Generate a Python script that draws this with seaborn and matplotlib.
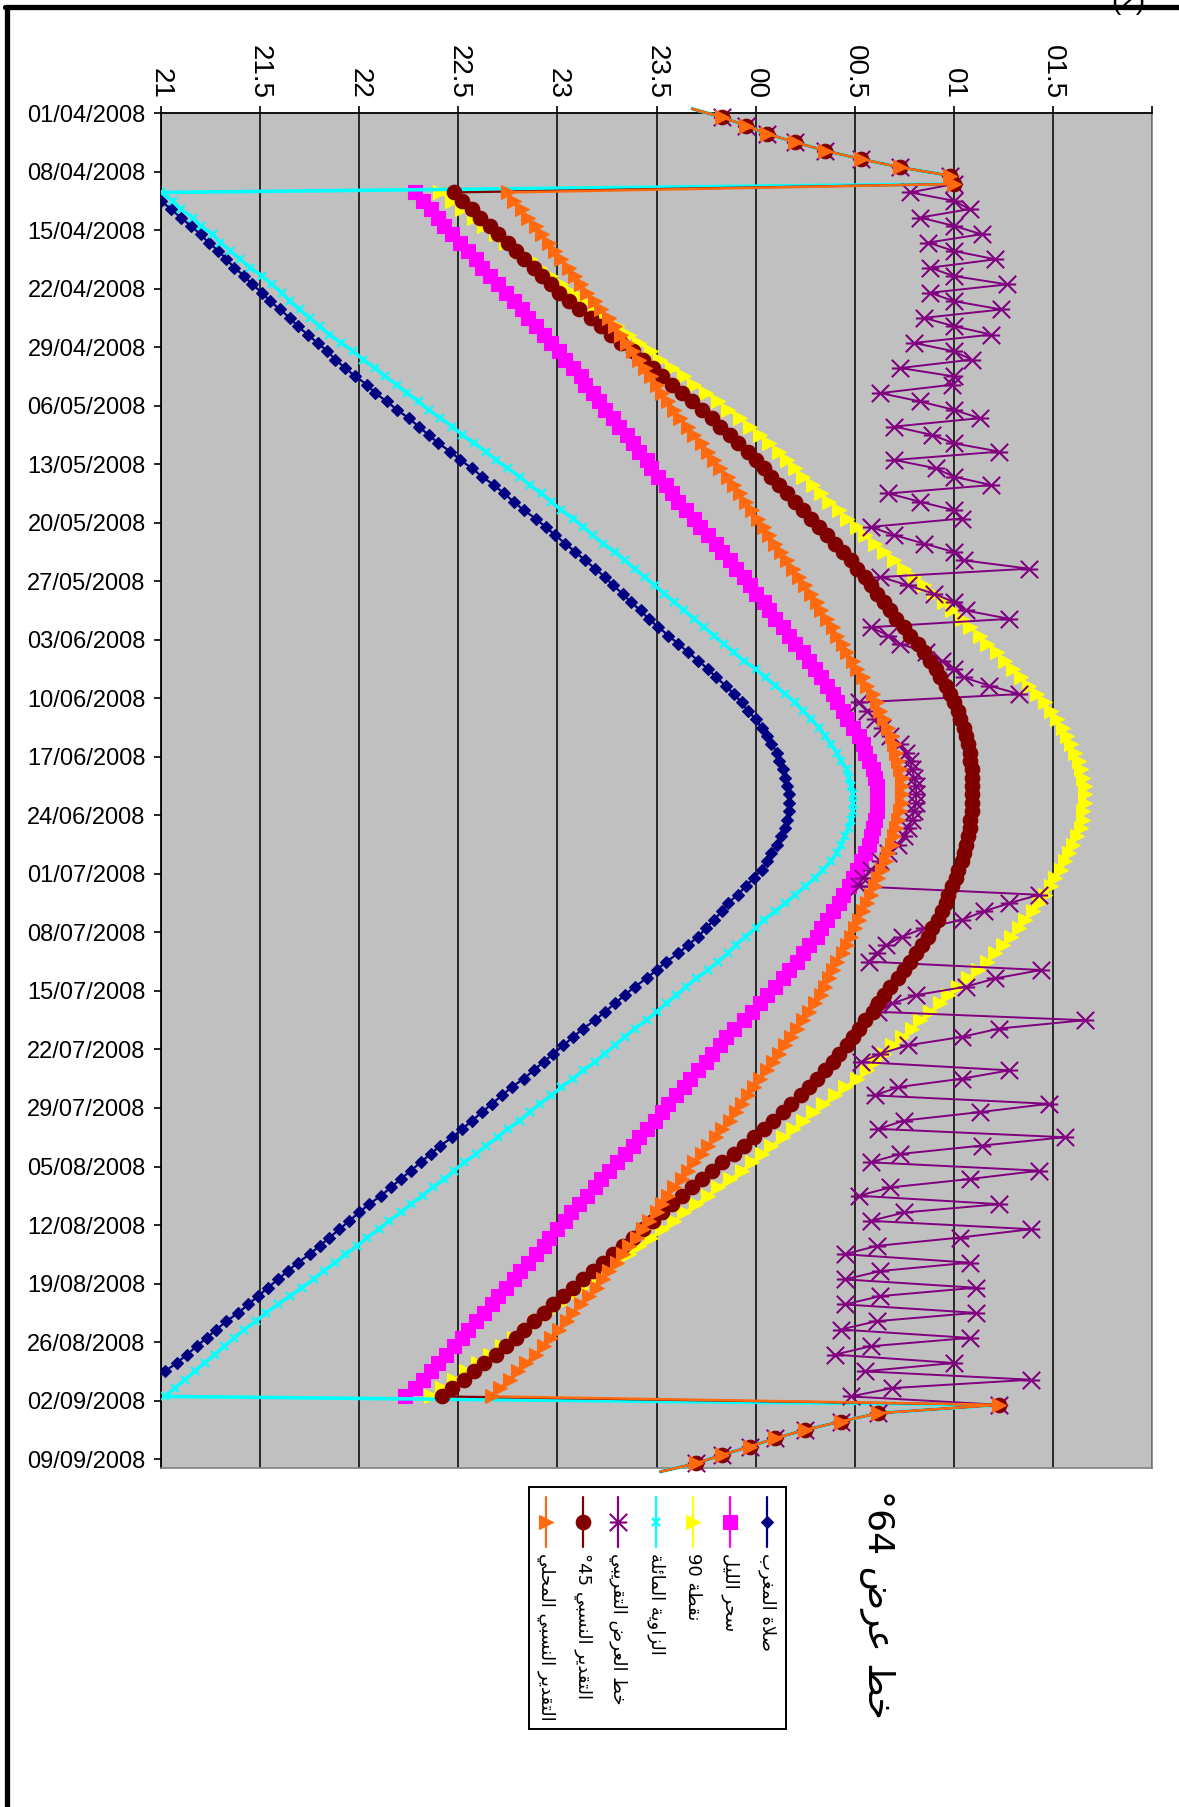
import numpy as np
import pandas as pd
import matplotlib
matplotlib.use("Agg")
import matplotlib.pyplot as plt
import seaborn as sns
from matplotlib.lines import Line2D
from matplotlib.path import Path
from matplotlib.patches import Rectangle

# ---------------------------------------------------------------- data
# one value per day, 31/03/2008 .. 10/09/2008 (hours, 24.x = after midnight)
dates = pd.date_range("2008-03-31", "2008-09-10", freq="D")
tick_dates = pd.date_range("2008-04-01", "2008-09-09", freq="7D")
hour_ticks = [21, 21.5, 22, 22.5, 23, 23.5, 24, 24.5, 25, 25.5, 26]
hour_labels = ["21", "21.5", "22", "22.5", "23", "23.5", "00", "00.5", "01", "01.5", ""]

# shared values at the start (31/03 - 09/04) and end (02/09 - 10/09)
fallback_start = [23.68, 23.83, 23.95, 24.06, 24.20, 24.35, 24.53, 24.73, 24.98, 25.00]
fallback_end = [25.23, 24.62, 24.43, 24.25, 24.10, 23.97, 23.83, 23.70, 23.52]

# صلاة المغرب, 10/04 - 31/08
maghrib = [
    20.95, 21.00, 21.05, 21.10, 21.15, 21.20, 21.24, 21.29, 21.33, 21.37,
    21.42, 21.46, 21.51, 21.55, 21.60, 21.65, 21.69, 21.74, 21.79, 21.84,
    21.88, 21.93, 21.98, 22.04, 22.08, 22.14, 22.19, 22.25, 22.30, 22.35,
    22.40, 22.46, 22.51, 22.57, 22.62, 22.68, 22.73, 22.78, 22.83, 22.89,
    22.94, 22.99, 23.04, 23.09, 23.14, 23.19, 23.24, 23.28, 23.33, 23.37,
    23.42, 23.46, 23.51, 23.56, 23.61, 23.66, 23.71, 23.76, 23.80, 23.85,
    23.89, 23.93, 23.96, 24.00, 24.03, 24.06, 24.08, 24.11, 24.12, 24.14,
    24.15, 24.16, 24.17, 24.17, 24.17, 24.16, 24.15, 24.13, 24.11, 24.08,
    24.06, 24.03, 23.99, 23.95, 23.91, 23.86, 23.83, 23.79, 23.75, 23.71,
    23.66, 23.61, 23.55, 23.50, 23.45, 23.39, 23.34, 23.29, 23.24, 23.19,
    23.13, 23.08, 23.03, 22.98, 22.93, 22.88, 22.83, 22.77, 22.72, 22.67,
    22.62, 22.57, 22.52, 22.47, 22.41, 22.36, 22.31, 22.26, 22.21, 22.16,
    22.11, 22.05, 22.00, 21.95, 21.90, 21.85, 21.80, 21.75, 21.69, 21.64,
    21.59, 21.54, 21.49, 21.44, 21.39, 21.33, 21.28, 21.23, 21.18, 21.13,
    21.08, 21.02, 20.97, 20.92,
]

# سحر الليل, 10/04 - 01/09
sahar = [
    22.28, 22.32, 22.36, 22.40, 22.43, 22.47, 22.51, 22.55, 22.59, 22.62,
    22.66, 22.70, 22.74, 22.78, 22.82, 22.85, 22.89, 22.93, 22.97, 23.01,
    23.04, 23.08, 23.12, 23.14, 23.18, 23.21, 23.24, 23.28, 23.31, 23.35,
    23.38, 23.41, 23.45, 23.47, 23.51, 23.55, 23.58, 23.61, 23.65, 23.69,
    23.72, 23.76, 23.80, 23.83, 23.87, 23.90, 23.94, 23.97, 24.00, 24.04,
    24.07, 24.10, 24.14, 24.17, 24.20, 24.24, 24.27, 24.30, 24.33, 24.36,
    24.39, 24.41, 24.44, 24.46, 24.49, 24.52, 24.54, 24.55, 24.57, 24.59,
    24.60, 24.61, 24.61, 24.61, 24.61, 24.60, 24.59, 24.58, 24.57, 24.55,
    24.53, 24.51, 24.49, 24.47, 24.44, 24.42, 24.39, 24.36, 24.33, 24.31,
    24.27, 24.24, 24.21, 24.17, 24.14, 24.10, 24.06, 24.02, 23.98, 23.94,
    23.89, 23.85, 23.82, 23.78, 23.75, 23.71, 23.67, 23.64, 23.60, 23.56,
    23.53, 23.49, 23.45, 23.41, 23.38, 23.34, 23.30, 23.26, 23.22, 23.19,
    23.15, 23.11, 23.07, 23.04, 23.00, 22.96, 22.93, 22.89, 22.85, 22.81,
    22.78, 22.74, 22.70, 22.67, 22.63, 22.59, 22.55, 22.52, 22.48, 22.44,
    22.40, 22.36, 22.32, 22.28, 22.23,
]

# نقطة 90, 10/04 - 01/09
point90 = [
    22.41, 22.47, 22.52, 22.58, 22.63, 22.69, 22.74, 22.80, 22.86, 22.91,
    22.97, 23.02, 23.08, 23.13, 23.19, 23.24, 23.30, 23.36, 23.41, 23.47,
    23.52, 23.58, 23.64, 23.69, 23.75, 23.81, 23.86, 23.92, 23.97, 24.02,
    24.07, 24.12, 24.16, 24.20, 24.24, 24.29, 24.33, 24.37, 24.42, 24.46,
    24.51, 24.55, 24.60, 24.65, 24.70, 24.75, 24.80, 24.85, 24.90, 24.95,
    24.99, 25.04, 25.08, 25.13, 25.17, 25.22, 25.26, 25.30, 25.34, 25.38,
    25.42, 25.46, 25.49, 25.52, 25.55, 25.57, 25.59, 25.61, 25.63, 25.64,
    25.65, 25.66, 25.66, 25.66, 25.65, 25.65, 25.64, 25.62, 25.60, 25.58,
    25.56, 25.54, 25.51, 25.49, 25.46, 25.43, 25.40, 25.36, 25.33, 25.29,
    25.25, 25.21, 25.17, 25.12, 25.07, 25.02, 24.97, 24.93, 24.88, 24.83,
    24.79, 24.74, 24.69, 24.65, 24.60, 24.56, 24.51, 24.45, 24.40, 24.34,
    24.29, 24.24, 24.19, 24.14, 24.08, 24.03, 23.98, 23.93, 23.87, 23.81,
    23.76, 23.70, 23.64, 23.59, 23.53, 23.47, 23.41, 23.36, 23.30, 23.24,
    23.18, 23.12, 23.06, 23.01, 22.95, 22.89, 22.84, 22.78, 22.72, 22.66,
    22.60, 22.54, 22.48, 22.42, 22.36,
]

# الزاوية المائلة, 10/04 - 01/09
oblique = [
    21.00, 21.06, 21.10, 21.16, 21.20, 21.26, 21.30, 21.35, 21.40, 21.45,
    21.51, 21.56, 21.61, 21.65, 21.70, 21.75, 21.80, 21.85, 21.91, 21.97,
    22.02, 22.08, 22.13, 22.19, 22.24, 22.30, 22.35, 22.41, 22.47, 22.52,
    22.58, 22.64, 22.69, 22.75, 22.81, 22.86, 22.92, 22.97, 23.02, 23.08,
    23.13, 23.18, 23.23, 23.29, 23.34, 23.39, 23.44, 23.49, 23.54, 23.59,
    23.64, 23.69, 23.74, 23.79, 23.84, 23.89, 23.94, 24.00, 24.05, 24.10,
    24.15, 24.20, 24.24, 24.28, 24.32, 24.35, 24.38, 24.41, 24.43, 24.46,
    24.47, 24.48, 24.49, 24.49, 24.49, 24.48, 24.47, 24.45, 24.43, 24.41,
    24.38, 24.34, 24.30, 24.25, 24.20, 24.15, 24.10, 24.04, 24.00, 23.95,
    23.90, 23.86, 23.81, 23.76, 23.70, 23.65, 23.60, 23.55, 23.50, 23.45,
    23.39, 23.34, 23.29, 23.24, 23.19, 23.13, 23.08, 23.02, 22.97, 22.91,
    22.86, 22.81, 22.75, 22.70, 22.64, 22.59, 22.53, 22.48, 22.43, 22.37,
    22.32, 22.26, 22.21, 22.15, 22.10, 22.04, 21.99, 21.93, 21.88, 21.82,
    21.77, 21.71, 21.65, 21.59, 21.53, 21.48, 21.42, 21.37, 21.32, 21.27,
    21.22, 21.17, 21.12, 21.07, 21.02,
]

# خط العرض التقريبي, 10/04 - 01/09
approx_lat = [
    24.78, 25.00, 25.08, 24.83, 25.00, 25.14, 24.87, 25.00, 25.21, 24.88,
    25.00, 25.27, 24.88, 25.00, 25.24, 24.85, 25.00, 25.19, 24.80, 25.00,
    25.09, 24.73, 25.00, 24.99, 24.63, 24.83, 25.00, 25.13, 24.70, 24.89,
    25.00, 25.23, 24.70, 24.91, 25.00, 25.19, 24.67, 24.83, 25.00, 25.04,
    24.58, 24.70, 24.85, 25.00, 25.05, 25.38, 24.63, 24.77, 24.90, 25.00,
    25.06, 25.28, 24.58, 24.67, 24.73, 24.86, 24.94, 25.00, 25.05, 25.18,
    25.33, 24.52, 24.56, 24.60, 24.64, 24.68, 24.73, 24.76, 24.78, 24.79,
    24.80, 24.81, 24.81, 24.81, 24.80, 24.79, 24.77, 24.75, 24.72, 24.67,
    24.63, 24.58, 24.54, 24.52, 25.43, 25.28, 25.15, 25.04, 24.85, 24.74,
    24.66, 24.61, 24.57, 25.44, 25.21, 25.06, 24.81, 24.69, 24.62, 25.66,
    25.23, 25.04, 24.77, 24.63, 24.53, 25.28, 25.04, 24.72, 24.60, 25.48,
    25.13, 24.75, 24.62, 25.56, 25.14, 24.73, 24.58, 25.43, 25.08, 24.68,
    24.52, 25.23, 24.75, 24.58, 25.39, 25.03, 24.61, 24.45, 25.08, 24.63,
    24.45, 25.11, 24.63, 24.45, 25.11, 24.61, 24.43, 25.08, 24.58, 24.40,
    25.00, 24.55, 25.39, 24.69, 24.48,
]

# التقدير النسبي 45°, 10/04 - 01/09
relative45 = [
    22.48, 22.52, 22.57, 22.61, 22.66, 22.70, 22.75, 22.79, 22.83, 22.88,
    22.92, 22.97, 23.01, 23.06, 23.11, 23.17, 23.22, 23.27, 23.32, 23.38,
    23.43, 23.48, 23.53, 23.58, 23.63, 23.68, 23.73, 23.78, 23.82, 23.87,
    23.91, 23.96, 24.00, 24.04, 24.08, 24.12, 24.16, 24.20, 24.24, 24.28,
    24.32, 24.36, 24.40, 24.44, 24.48, 24.51, 24.55, 24.58, 24.61, 24.65,
    24.68, 24.71, 24.75, 24.78, 24.82, 24.85, 24.88, 24.91, 24.93, 24.96,
    24.98, 25.00, 25.02, 25.03, 25.05, 25.06, 25.07, 25.08, 25.08, 25.09,
    25.09, 25.09, 25.09, 25.09, 25.09, 25.08, 25.08, 25.07, 25.06, 25.05,
    25.04, 25.02, 25.01, 24.99, 24.97, 24.96, 24.94, 24.92, 24.89, 24.87,
    24.84, 24.81, 24.78, 24.75, 24.72, 24.68, 24.65, 24.62, 24.59, 24.55,
    24.52, 24.49, 24.46, 24.42, 24.39, 24.35, 24.31, 24.27, 24.23, 24.18,
    24.14, 24.09, 24.04, 23.99, 23.94, 23.89, 23.83, 23.78, 23.73, 23.68,
    23.63, 23.58, 23.53, 23.48, 23.43, 23.38, 23.33, 23.28, 23.23, 23.18,
    23.13, 23.08, 23.03, 22.98, 22.93, 22.88, 22.83, 22.79, 22.74, 22.69,
    22.63, 22.58, 22.53, 22.47, 22.42,
]

# التقدير النسبي المحلي, 10/04 - 01/09
relative_local = [
    22.75, 22.78, 22.82, 22.85, 22.89, 22.92, 22.96, 22.99, 23.02, 23.06,
    23.09, 23.12, 23.15, 23.19, 23.22, 23.26, 23.29, 23.32, 23.35, 23.38,
    23.41, 23.44, 23.47, 23.50, 23.53, 23.56, 23.59, 23.62, 23.66, 23.69,
    23.73, 23.76, 23.79, 23.82, 23.86, 23.89, 23.92, 23.95, 23.98, 24.01,
    24.04, 24.07, 24.10, 24.13, 24.16, 24.19, 24.22, 24.25, 24.28, 24.31,
    24.33, 24.36, 24.39, 24.41, 24.44, 24.46, 24.49, 24.51, 24.54, 24.56,
    24.59, 24.61, 24.63, 24.65, 24.67, 24.69, 24.70, 24.71, 24.72, 24.73,
    24.74, 24.74, 24.74, 24.74, 24.73, 24.72, 24.71, 24.70, 24.69, 24.67,
    24.66, 24.64, 24.62, 24.60, 24.58, 24.56, 24.54, 24.52, 24.50, 24.48,
    24.46, 24.44, 24.41, 24.39, 24.37, 24.35, 24.33, 24.30, 24.27, 24.24,
    24.21, 24.18, 24.15, 24.12, 24.09, 24.06, 24.02, 23.99, 23.96, 23.93,
    23.90, 23.87, 23.83, 23.80, 23.76, 23.73, 23.69, 23.66, 23.63, 23.59,
    23.56, 23.53, 23.50, 23.46, 23.43, 23.40, 23.36, 23.33, 23.30, 23.26,
    23.23, 23.20, 23.16, 23.12, 23.08, 23.05, 23.01, 22.97, 22.93, 22.89,
    22.84, 22.80, 22.76, 22.71, 22.67,
]

# ------------------------------------------------------ Arabic shaping
DUAL = {"ب": 0xFE8F, "ت": 0xFE95, "ح": 0xFEA1, "خ": 0xFEA5, "س": 0xFEB1,
        "ص": 0xFEB9, "ض": 0xFEBD, "ط": 0xFEC1, "ع": 0xFEC9, "غ": 0xFECD,
        "ق": 0xFED5, "ل": 0xFEDD, "م": 0xFEE1, "ن": 0xFEE5, "ي": 0xFEF1,
        "ئ": 0xFE89}
RIGHT = {"ا": 0xFE8D, "ة": 0xFE93, "د": 0xFEA9, "ر": 0xFEAD, "ز": 0xFEAF,
         "و": 0xFEED, "\uFEFB": 0xFEFB}


def shape_word(word):
    """Contextual forms for one word, returned in visual (left-to-right) order."""
    chars = list(word.replace("لا", "\uFEFB"))
    out = []
    for i, c in enumerate(chars):
        prev = chars[i - 1] if i > 0 else None
        nxt = chars[i + 1] if i + 1 < len(chars) else None
        joins_prev = prev in DUAL
        if c in DUAL:
            joins_next = nxt is not None and (nxt in DUAL or nxt in RIGHT)
            off = 3 if (joins_prev and joins_next) else 1 if joins_prev else 2 if joins_next else 0
            out.append(chr(DUAL[c] + off))
        elif c in RIGHT:
            out.append(chr(RIGHT[c] + (1 if joins_prev else 0)))
        else:
            out.append(c)
    return "".join(reversed(out))


def visual(words):
    return " ".join(shape_word(w) for w in reversed(words))


labels = [
    visual(["صلاة", "المغرب"]),
    visual(["سحر", "الليل"]),
    "90 " + shape_word("نقطة"),
    visual(["الزاوية", "المائلة"]),
    visual(["خط", "العرض", "التقريبي"]),
    "°45 " + visual(["التقدير", "النسبي"]),
    visual(["التقدير", "النسبي", "المحلي"]),
]
title_text = "°64 " + visual(["خط", "عرض"])

# ------------------------------------------------------------- series
n_days = len(dates)
day = np.arange(n_days) - 1           # 0 = 01/04/2008
pad_head = [np.nan] * 10              # 31/03 - 09/04
pad_tail = [np.nan] * 9               # 02/09 - 10/09


def full(values, head, tail):
    return np.array(list(head) + list(values) + list(tail), dtype=float)


star_path = Path([(-1, -1), (1, 1), (-1, 1), (1, -1), (-1, 0), (1, 0)],
                 [Path.MOVETO, Path.LINETO, Path.MOVETO, Path.LINETO,
                  Path.MOVETO, Path.LINETO])

series = [
    dict(vals=full(maghrib, pad_head, [np.nan] * 10), color="#000080", marker="D",
         ms=6.5, mfc="#000080", mew=0.8, lw=1.6, trim=True),
    dict(vals=full(sahar, pad_head, pad_tail), color="#FF00FF", marker="s",
         ms=9.5, mfc="#FF00FF", mew=0.8, lw=1.6, trim=False),
    dict(vals=full(point90, pad_head, pad_tail), color="#FFFF00", marker=">",
         ms=10.5, mfc="#FFFF00", mew=0.8, lw=1.6, trim=False),
    dict(vals=full(oblique, fallback_start, fallback_end), color="#00FFFF", marker="x",
         ms=5.5, mfc="none", mew=1.6, lw=2.6, trim=True),
    dict(vals=full(approx_lat, fallback_start, fallback_end), color="#800080",
         marker=star_path, ms=12.5, mfc="none", mew=1.5, lw=1.4, trim=True),
    dict(vals=full(relative45, fallback_start, fallback_end), color="#800000", marker="o",
         ms=10.5, mfc="#800000", mew=0.8, lw=1.6, trim=True),
    dict(vals=full(relative_local, fallback_start, fallback_end), color="#FF6A10",
         marker=">", ms=10.5, mfc="#FF6A10", mew=0.8, lw=1.8, trim=True),
]

# -------------------------------------------------------------- figure
sns.set_theme(style="white")
plt.rcParams["font.family"] = ["Liberation Sans", "DejaVu Sans"]

W, H = 1179, 1807
fig = plt.figure(figsize=(W / 100, H / 100), dpi=100)
fig.patch.set_facecolor("white")
ax = fig.add_axes([161 / W, 1 - 1467.5 / H, (1152 - 161) / W, (1467.5 - 113) / H])
ax.set_facecolor("#C0C0C0")

clip = Rectangle((21, -1.6), 5, 164.2, transform=ax.transData, visible=False)
ax.add_patch(clip)

for z, s in enumerate(series):
    df = pd.DataFrame({"hour": s["vals"], "day": day}).dropna()
    extra = {"markevery": slice(1, -1)} if s["trim"] else {}
    sns.lineplot(data=df, x="hour", y="day", orient="y", sort=True, estimator=None,
                 ax=ax, color=s["color"], linewidth=s["lw"], marker=s["marker"],
                 markersize=s["ms"], markerfacecolor=s["mfc"],
                 markeredgecolor=s["color"], markeredgewidth=s["mew"],
                 legend=False, zorder=3 + z, **extra)
    ax.lines[-1].set_clip_path(clip)

ax.set_xlim(21, 26)
ax.set_ylim(161.5, -0.5)
ax.set_xlabel("")
ax.set_ylabel("")

ax.set_xticks(hour_ticks)
ax.set_xticklabels(hour_labels)
ax.xaxis.set_ticks_position("top")
ax.tick_params(axis="x", which="major", direction="out", length=5, width=1.2,
               color="black", pad=5, labelsize=20, labelrotation=-90,
               top=True, bottom=False, labeltop=True, labelbottom=False,
               labelcolor="black")

ax.set_yticks(np.arange(0, n_days - 2, 7) - 0.5)
ax.set_yticklabels(tick_dates.strftime("%d/%m/%Y"))
ax.tick_params(axis="y", direction="out", length=5, width=1.2, color="black",
               pad=6, labelsize=17, left=True, labelcolor="black")

ax.grid(True, axis="x", color="black", linewidth=1.1)
ax.grid(False, axis="y")
ax.set_axisbelow(True)

for side in ["top", "left"]:
    ax.spines[side].set_color("black")
    ax.spines[side].set_linewidth(1.3)
for side in ["right", "bottom"]:
    ax.spines[side].set_color("#808080")
    ax.spines[side].set_linewidth(1.2)

# ---------------------------------------------------- legend (rotated)
fig.add_artist(Rectangle((529 / W, 1 - 1729 / H), (786 - 529) / W, (1729 - 1487) / H,
                         transform=fig.transFigure, fill=False, edgecolor="black",
                         linewidth=1.4))
legend_x = [767, 730, 693, 656, 618, 583, 546]
for s, lab, xp in zip(series, labels, legend_x):
    xf = xp / W
    fig.add_artist(Line2D([xf, xf], [1 - 1497 / H, 1 - 1547 / H], transform=fig.transFigure,
                          color=s["color"], linewidth=1.6))
    fig.add_artist(Line2D([xf], [1 - 1522 / H], transform=fig.transFigure,
                          linestyle="none", marker=s["marker"], markersize=s["ms"],
                          markerfacecolor=s["mfc"], markeredgecolor=s["color"],
                          markeredgewidth=s["mew"]))
    fig.text(xf, 1 - 1553 / H, lab, rotation=-90, ha="center", va="top",
             fontsize=13, family=["DejaVu Sans"], color="black")

fig.text(877 / W, 1 - 1490 / H, title_text, rotation=-90, ha="center", va="top",
         fontsize=26, family=["DejaVu Sans"], color="black")

# page frame
fig.add_artist(Line2D([7 / W, 7 / W], [0, 1 - 7 / H], transform=fig.transFigure,
                      color="black", linewidth=3.8))
fig.add_artist(Line2D([5 / W, 1], [1 - 7 / H, 1 - 7 / H], transform=fig.transFigure,
                      color="black", linewidth=3.8))
fig.text(1128 / W, 1 - 9 / H, "(2)", ha="center", va="baseline", fontsize=20,
         color="black")

fig.savefig("out.png", dpi=100)
